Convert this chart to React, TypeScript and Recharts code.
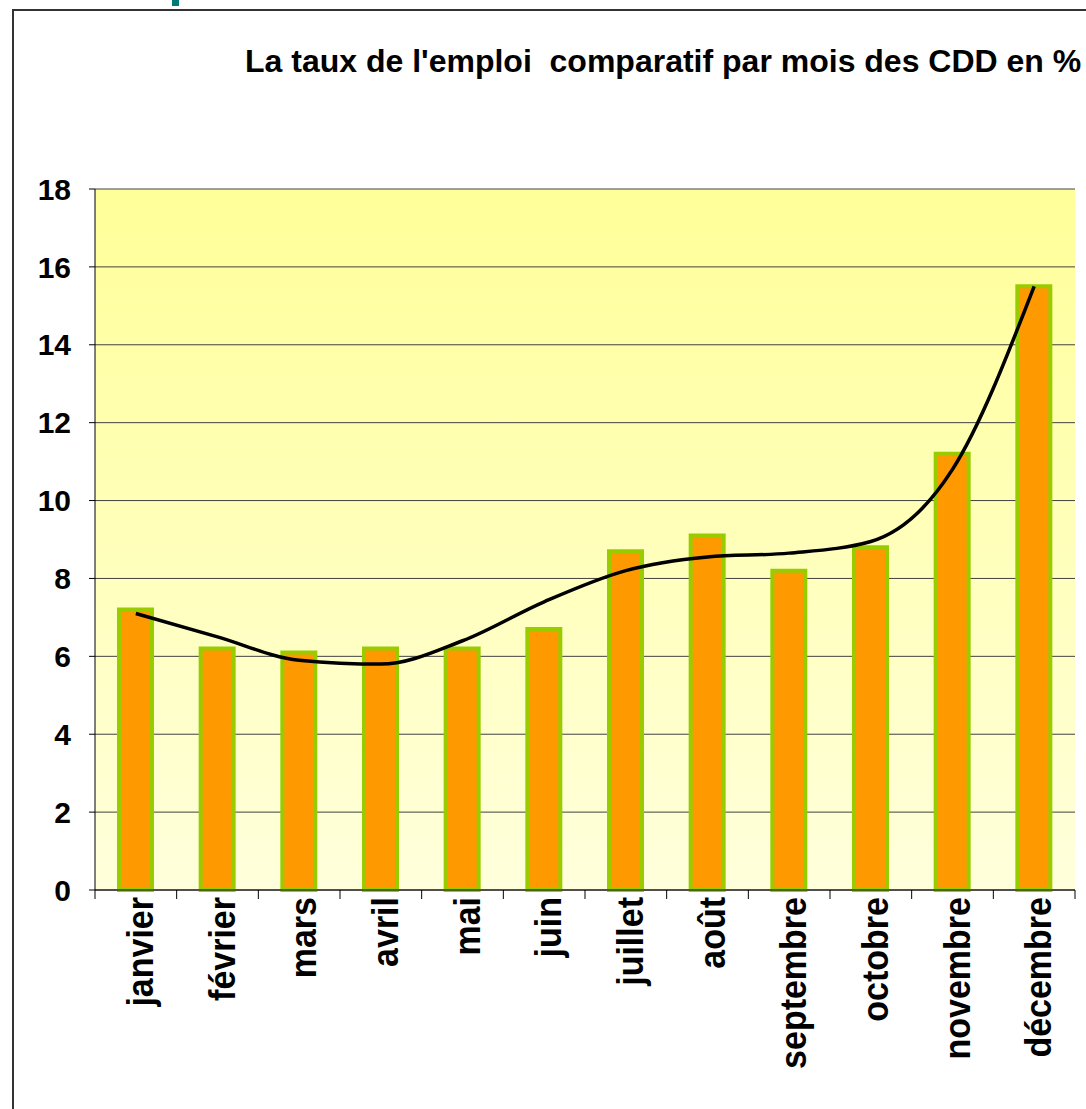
import { Bar, CartesianGrid, ComposedChart, Line, XAxis, YAxis } from 'recharts'

const MONTHS = [
  'janvier',
  'février',
  'mars',
  'avril',
  'mai',
  'juin',
  'juillet',
  'août',
  'septembre',
  'octobre',
  'novembre',
  'décembre',
]
// taux CDD (%) par mois
const CDD_RATE = [7.2, 6.2, 6.1, 6.2, 6.2, 6.7, 8.7, 9.1, 8.2, 8.8, 11.2, 15.5]
// courbe de tendance, au centre de chaque mois
const TREND = [7.1, 6.5, 5.9, 5.8, 6.4, 7.4, 8.2, 8.55, 8.65, 8.95, 10.8, 15.5]
const Y_TICKS = [0, 2, 4, 6, 8, 10, 12, 14, 16, 18]

const TITLE = "La taux de l'emploi  comparatif par mois des CDD en %"

const W = 1086
const H = 1109
const PLOT_LEFT = 95
const PLOT_RIGHT = 1075
const FONT = '"Liberation Sans", Arial, sans-serif'

const data = MONTHS.map((month, i) => ({
  month,
  rate: CDD_RATE[i],
  trend: TREND[i],
}))

function MonthTick(props: any) {
  const { x, y, payload, index } = props
  const half = (PLOT_RIGHT - PLOT_LEFT) / MONTHS.length / 2
  const isLast = index === MONTHS.length - 1
  return (
    <g>
      <line x1={x - half} x2={x - half} y1={y} y2={y + 9} stroke="#000" strokeWidth={1} />
      {isLast && <line x1={x + half} x2={x + half} y1={y} y2={y + 9} stroke="#000" strokeWidth={1} />}
      <text
        transform={`translate(${x}, ${y + 7}) rotate(-90) scale(1, 1.1)`}
        x={0}
        y={15.5}
        textAnchor="end"
        fontFamily={FONT}
        fontWeight="bold"
        fontSize={34}
        fill="#000"
      >
        {payload.value}
      </text>
    </g>
  )
}

export default function App() {
  return (
    <div style={{ position: 'absolute', left: 0, top: 0, width: W, height: H, overflow: 'hidden', background: '#fff' }}>
      <div style={{ position: 'absolute', left: 172, top: 0, width: 7, height: 6, background: '#007a78' }} />
      <div
        style={{
          position: 'absolute',
          left: 12,
          top: 9,
          width: W,
          height: H,
          borderLeft: '2px solid #333',
          borderTop: '2px solid #333',
        }}
      />
      <div
        style={{
          position: 'absolute',
          left: 245,
          top: 45,
          fontFamily: FONT,
          fontWeight: 'bold',
          fontSize: 32,
          lineHeight: '32px',
          whiteSpace: 'pre',
          color: '#000',
        }}
      >
        {TITLE}
      </div>
      <div style={{ position: 'absolute', left: 0, top: 0 }}>
        <ComposedChart
          width={W}
          height={H}
          data={data}
          margin={{ top: 189, right: W - PLOT_RIGHT, left: 15, bottom: 19 }}
        >
          <defs>
            <linearGradient id="plotBg" x1="0" x2="0" y1="0" y2="1">
              <stop offset="0%" stopColor="#ffff99" />
              <stop offset="100%" stopColor="#ffffdc" />
            </linearGradient>
          </defs>
          <CartesianGrid vertical={false} fill="url(#plotBg)" stroke="#404040" strokeWidth={1} />
          <XAxis
            dataKey="month"
            height={200}
            interval={0}
            tickLine={false}
            tickSize={0}
            tickMargin={0}
            axisLine={{ stroke: '#000', strokeWidth: 1 }}
            tick={<MonthTick />}
          />
          <YAxis
            width={80}
            domain={[0, 18]}
            ticks={Y_TICKS}
            interval={0}
            tickSize={6}
            tickMargin={18}
            axisLine={{ stroke: '#000', strokeWidth: 1 }}
            tickLine={{ stroke: '#000', strokeWidth: 1 }}
            tick={{ fontFamily: FONT, fontWeight: 'bold', fontSize: 30, fill: '#000' }}
          />
          <YAxis
            yAxisId="right"
            orientation="right"
            width={0}
            domain={[0, 18]}
            tick={false}
            tickLine={false}
            axisLine={{ stroke: '#808080', strokeWidth: 2 }}
          />
          <Bar
            dataKey="rate"
            barSize={33}
            fill="#ff9900"
            stroke="#99cc00"
            strokeWidth={4}
            isAnimationActive={false}
          />
          <Line
            type="monotone"
            dataKey="trend"
            stroke="#000"
            strokeWidth={3.5}
            dot={false}
            activeDot={false}
            isAnimationActive={false}
          />
        </ComposedChart>
      </div>
    </div>
  )
}
